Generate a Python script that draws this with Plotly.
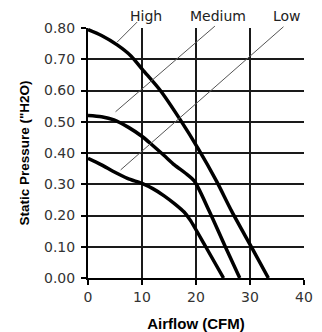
import plotly.graph_objects as go

# Fan curves: airflow (CFM) vs static pressure ("H2O)
high_x = [0, 2.5, 5.4, 8.0, 10.1, 13.4, 17.1, 20.4, 23.8, 26.6, 30.3, 33.4]
high_y = [0.795, 0.776, 0.746, 0.710, 0.667, 0.600, 0.506, 0.414, 0.310, 0.214, 0.098, 0.0]

medium_x = [0, 2.5, 4.8, 7.5, 10.1, 12.0, 14.1, 16.0, 18.0, 19.7, 22.4, 25.3, 28.1]
medium_y = [0.520, 0.516, 0.506, 0.482, 0.452, 0.424, 0.392, 0.362, 0.336, 0.310, 0.216, 0.105, 0.0]

low_x = [0, 2.5, 4.8, 7.3, 10.1, 12.0, 14.1, 16.0, 17.8, 18.9, 21.8, 25.1]
low_y = [0.383, 0.362, 0.340, 0.319, 0.302, 0.286, 0.263, 0.238, 0.211, 0.186, 0.100, 0.0]

# speed labels and their leader lines (x0, y0, x1, y1) in data units
label_names = ["High", "Medium", "Low"]
label_x = [10.8, 24.1, 36.8]
label_y = [0.838, 0.838, 0.838]
leader_lines = [
    (5.4, 0.755, 9.1, 0.819),
    (5.1, 0.532, 23.5, 0.806),
    (6.05, 0.346, 36.2, 0.804),
]

x_range = [0, 40]
y_range = [0, 0.8]
x_ticks = [0, 10, 20, 30, 40]
y_ticks = [0.0, 0.1, 0.2, 0.3, 0.4, 0.5, 0.6, 0.7, 0.8]
y_tick_text = ["0.00", "0.10", "0.20", "0.30", "0.40", "0.50", "0.60", "0.70", "0.80"]


def y_to_paper(v):
    return (v - y_range[0]) / (y_range[1] - y_range[0])


fig = go.Figure()
for xs, ys in [(high_x, high_y), (medium_x, medium_y), (low_x, low_y)]:
    fig.add_trace(go.Scatter(
        x=xs, y=ys, mode="lines",
        line=dict(color="black", width=3.5, shape="spline", smoothing=0.75),
        showlegend=False, hoverinfo="skip",
    ))

for (x0, y0, x1, y1) in leader_lines:
    fig.add_shape(type="line", xref="x", yref="paper",
                  x0=x0, y0=y_to_paper(y0), x1=x1, y1=y_to_paper(y1),
                  line=dict(color="#555555", width=1))

for name, lx, ly in zip(label_names, label_x, label_y):
    fig.add_annotation(x=lx, y=y_to_paper(ly), xref="x", yref="paper", text=name,
                       showarrow=False,
                       font=dict(family="DejaVu Sans", size=14, color="#222222"),
                       xanchor="center", yanchor="middle")

axis_font = dict(family="DejaVu Sans", size=14, color="#333333")
# the page body adds an 8px offset, so the figure is sized to fit after it
fig.update_layout(
    width=314, height=324,
    margin=dict(l=80, r=18, t=20, b=54),
    paper_bgcolor="white", plot_bgcolor="white",
    xaxis=dict(
        range=x_range, tickvals=x_ticks, ticktext=[str(v) for v in x_ticks],
        showgrid=True, gridcolor="#1a1a1a", gridwidth=1.5,
        showline=True, linecolor="black", linewidth=2,
        ticks="outside", ticklen=5, tickwidth=1.5, tickcolor="black",
        tickfont=axis_font, zeroline=False, automargin=False,
        title=dict(text="<b>Airflow (CFM)</b>",
                   font=dict(family="Liberation Sans", size=15, color="black"),
                   standoff=15),
    ),
    yaxis=dict(
        range=y_range, tickvals=y_ticks, ticktext=y_tick_text,
        showgrid=True, gridcolor="#1a1a1a", gridwidth=1.5,
        showline=True, linecolor="black", linewidth=2,
        ticks="outside", ticklen=5, tickwidth=1.5, tickcolor="black",
        tickfont=axis_font, zeroline=False, automargin=False,
        ticklabelstandoff=3,
        title=dict(text="<b>Static Pressure (\"H2O)</b>",
                   font=dict(family="Liberation Sans", size=13.5, color="black"),
                   standoff=11),
    ),
)

fig.write_html("out.html")
